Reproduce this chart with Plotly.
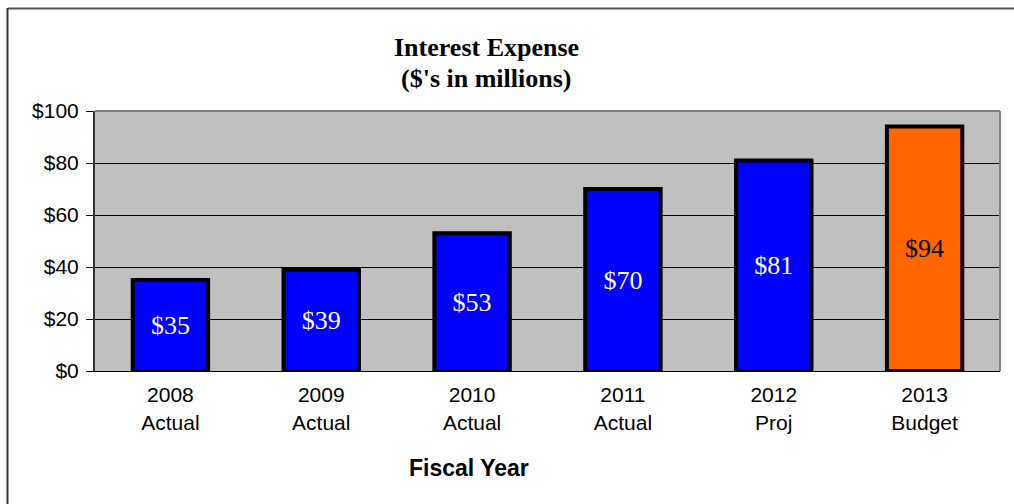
import plotly.graph_objects as go

# Fiscal years and interest expense ($ millions)
years = ["2008", "2009", "2010", "2011", "2012", "2013"]
stages = ["Actual", "Actual", "Actual", "Actual", "Proj", "Budget"]
expense = [35, 39, 53, 70, 81, 94]
bar_colors = ["#0000FF", "#0000FF", "#0000FF", "#0000FF", "#0000FF", "#FF6600"]
label_colors = ["white", "white", "white", "white", "white", "black"]
y_ticks = [0, 20, 40, 60, 80, 100]

categories = [f"{y}<br>{s}" for y, s in zip(years, stages)]

W, H = 1014, 504
L, R, T, B = 95, 14, 111, 133
pw, ph = W - L - R, H - T - B

SERIF = "Liberation Serif, Times New Roman, serif"


def px_x(p):
    return (p - L) / pw


def px_y(p):
    return (H - B - p) / ph


fig = go.Figure(
    go.Bar(
        x=categories,
        y=expense,
        width=0.5,
        marker=dict(color=bar_colors, line=dict(color="black", width=4)),
        texttemplate="$%{y}",
        textposition="inside",
        insidetextanchor="middle",
        textangle=0,
        textfont=dict(family=SERIF, size=26, color=label_colors),
        cliponaxis=False,
    )
)

fig.update_layout(
    width=W,
    height=H,
    margin=dict(l=L, r=R, t=T, b=B),
    paper_bgcolor="white",
    plot_bgcolor="#C0C0C0",
    showlegend=False,
    font=dict(family="Liberation Sans, Arial, sans-serif", size=21, color="black"),
    xaxis=dict(
        showline=True,
        linecolor="black",
        linewidth=1,
        ticks="",
        tickfont=dict(size=21),
        ticklabelstandoff=5,
        showgrid=False,
        fixedrange=True,
    ),
    yaxis=dict(
        range=[0, 100],
        tickvals=y_ticks,
        ticktext=[f"${v}" for v in y_ticks],
        ticks="outside",
        ticklen=7,
        tickcolor="black",
        tickwidth=1,
        showline=True,
        linecolor="#333333",
        linewidth=2,
        showgrid=True,
        gridcolor="black",
        gridwidth=1,
        zeroline=False,
        tickfont=dict(size=21),
        ticklabelstandoff=3,
        fixedrange=True,
    ),
    annotations=[
        dict(
            text="<b>Interest Expense</b>",
            x=px_x(486), y=px_y(48), xref="paper", yref="paper",
            xanchor="center", yanchor="middle", showarrow=False,
            font=dict(family=SERIF, size=26, color="black"),
        ),
        dict(
            text="<b>($'s in millions)</b>",
            x=px_x(486), y=px_y(78), xref="paper", yref="paper",
            xanchor="center", yanchor="middle", showarrow=False,
            font=dict(family=SERIF, size=26, color="black"),
        ),
        dict(
            text="<b>Fiscal Year</b>",
            x=px_x(469), y=px_y(468), xref="paper", yref="paper",
            xanchor="center", yanchor="middle", showarrow=False,
            font=dict(size=23, color="black"),
        ),
    ],
    shapes=[
        # plot area frame (top / right edges)
        dict(type="line", xref="paper", yref="paper", x0=0, x1=1, y0=1, y1=1,
             line=dict(color="#808080", width=2)),
        dict(type="line", xref="paper", yref="paper", x0=1, x1=1, y0=0, y1=1,
             line=dict(color="#808080", width=2)),
        # chart border
        dict(type="line", xref="paper", yref="paper", x0=px_x(8), x1=px_x(W + 2),
             y0=px_y(8.5), y1=px_y(8.5), line=dict(color="#555555", width=2)),
        dict(type="line", xref="paper", yref="paper", x0=px_x(7.5), x1=px_x(7.5),
             y0=px_y(8), y1=px_y(H + 2), line=dict(color="#333333", width=2)),
    ],
)

fig.write_html("out.html")
